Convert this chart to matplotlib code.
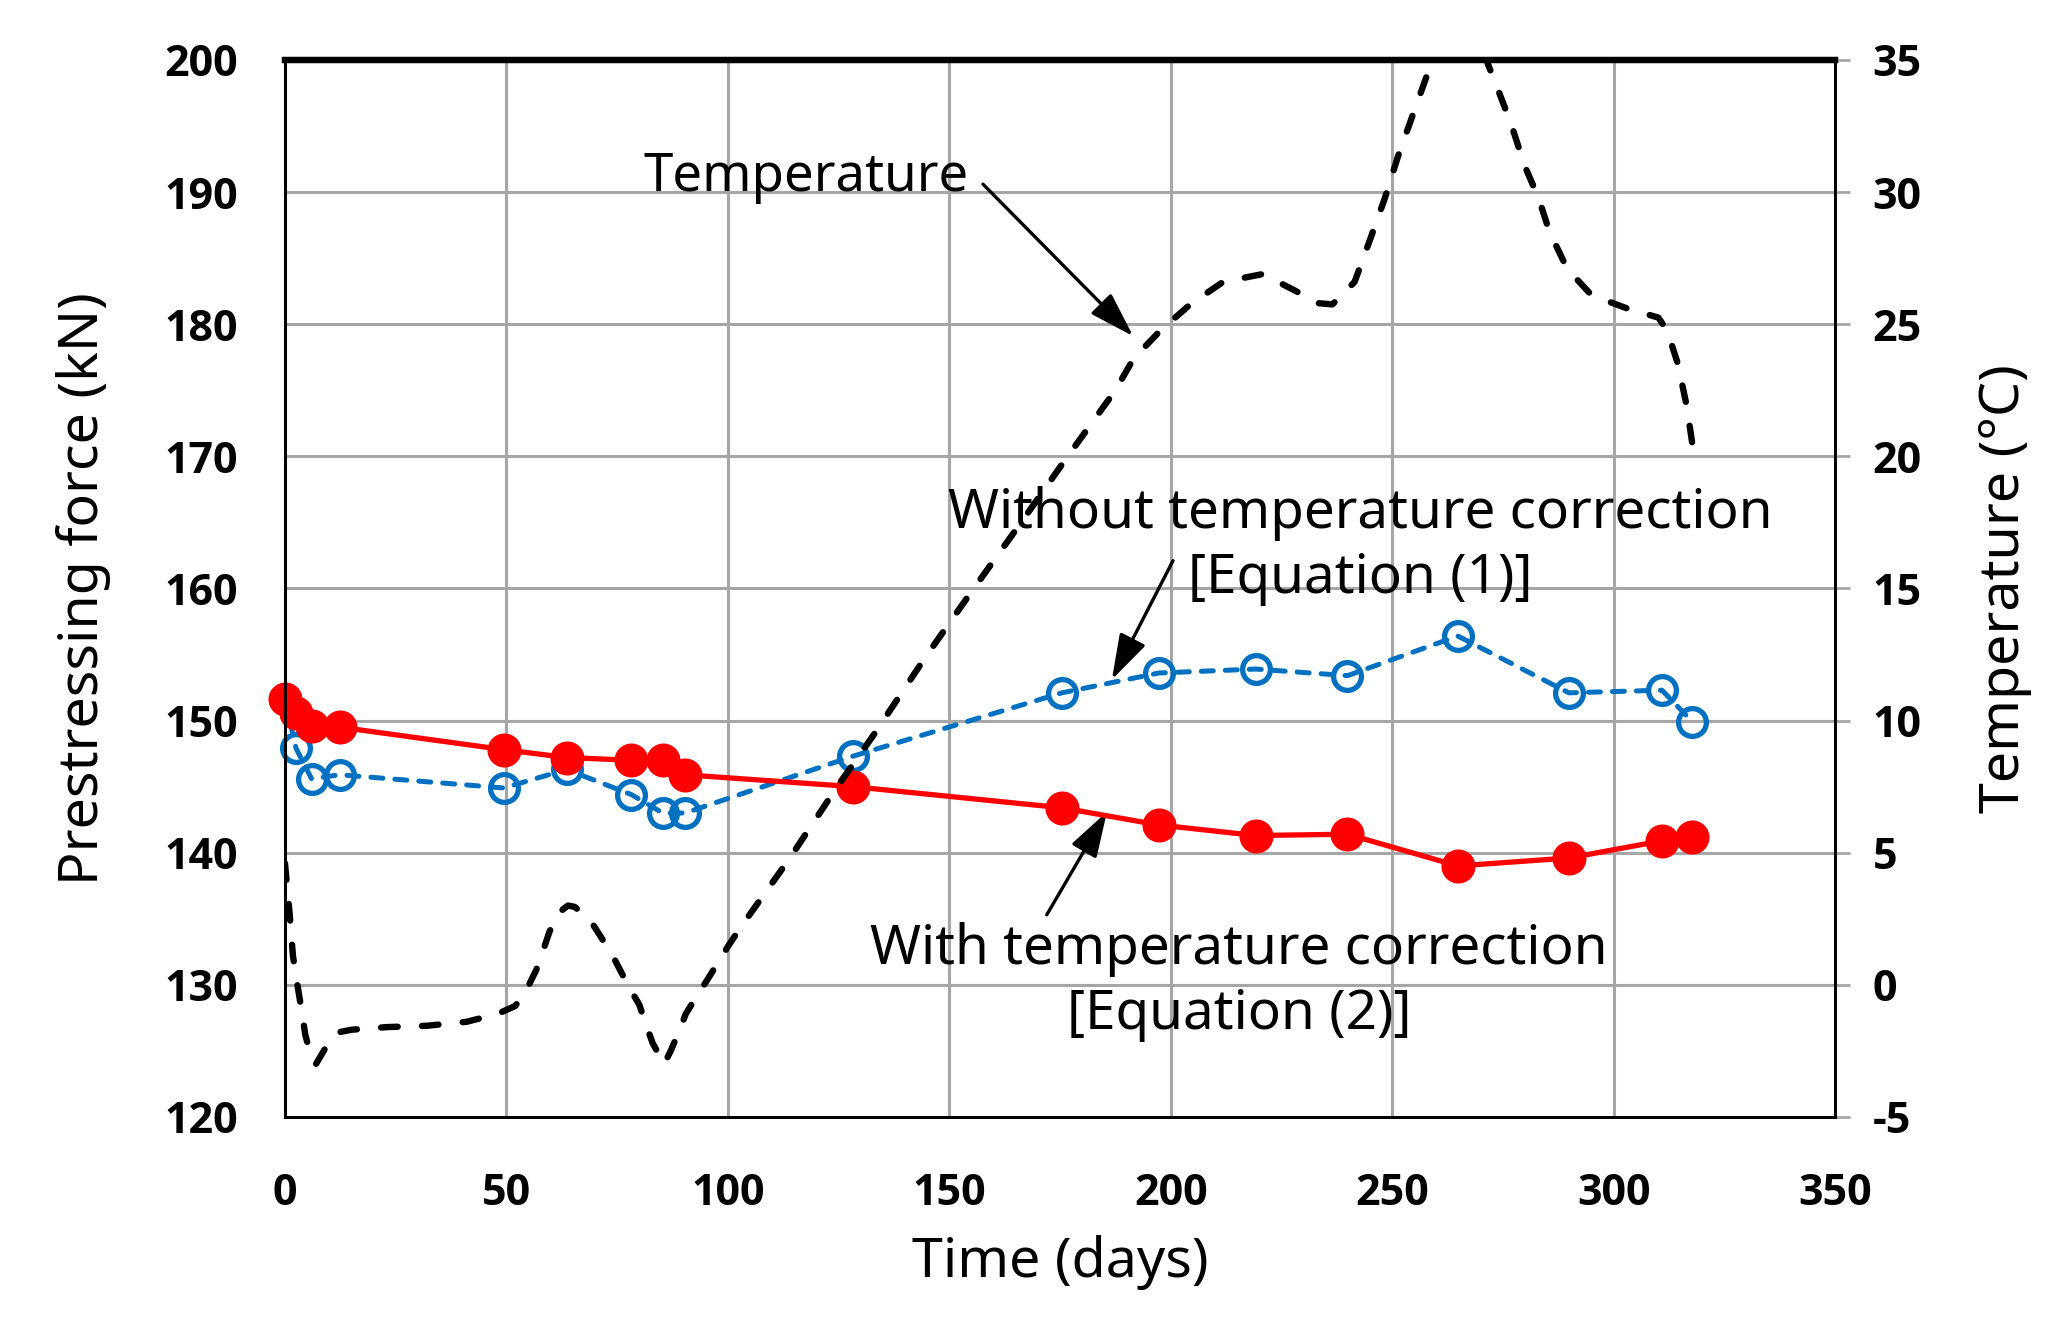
import numpy as np
import matplotlib
matplotlib.use("Agg")
import matplotlib.pyplot as plt

plt.rcParams['font.family'] = ['Noto Sans', 'DejaVu Sans']

# measurement days and prestressing force (kN)
days = [0, 2.5, 6, 12.4, 49.4, 63.6, 78.2, 85.3, 90.3, 128.2, 175.4, 197.3,
        219.2, 239.9, 264.8, 289.9, 310.9, 317.8]
forceWith = [151.6, 150.6, 149.6, 149.5, 147.8, 147.2, 147.0, 147.0, 145.9, 145.0,
             143.4, 142.1, 141.3, 141.4, 139.0, 139.6, 140.9, 141.2]
forceWithout = [151.6, 147.9, 145.6, 145.9, 144.9, 146.3, 144.4, 143.0, 143.0, 147.3,
                152.1, 153.6, 153.9, 153.4, 156.4, 152.1, 152.3, 149.9]

# temperature record
tempDays = [0, 0.5, 1.1, 1.8, 2.8, 3.6, 4.6, 5.4, 7.0, 9.1, 12, 15, 23, 32, 41, 48,
            52, 54.5, 56.7, 58.2, 59.7, 61.6, 63.9, 65.4, 68.7, 71, 74, 77.7, 80,
            81.5, 83, 85.6, 87.1, 89, 90.5, 92.7, 95.4, 98, 100.2, 103.2, 113.8,
            124.3, 133.3, 144.6, 155.1, 165.8, 176.3, 187.5, 191.6, 197.6, 204.4,
            211.8, 220.8, 228.3, 233, 236.5, 241.5, 245.1, 248.3, 251.4, 254.6,
            257.8, 261, 265, 269, 271.6, 273.6, 276.8, 279.9, 283.1, 285.5, 289.5,
            295, 303, 310.1, 312.1, 314.5, 316.5, 318]
tempValues = [4.6, 3.7, 2.6, 1.1, 0.0, -0.8, -1.9, -2.4, -3.0, -2.4, -1.8, -1.7, -1.6,
              -1.55, -1.4, -1.1, -0.8, -0.2, 0.55, 1.25, 2.0, 2.7, 3.0, 2.95, 2.5, 1.9,
              1.1, -0.1, -0.75, -1.5, -2.2, -3.0, -2.5, -1.75, -1.1, -0.5, 0.2, 0.9,
              1.5, 2.25, 4.75, 7.4, 9.55, 12.4, 14.9, 17.4, 19.9, 22.5, 23.7, 24.75,
              25.75, 26.6, 26.9, 26.25, 25.8, 25.75, 26.6, 28.25, 29.75, 31.4, 32.9,
              34.4, 36.0, 37.3, 36.3, 34.85, 34.0, 32.6, 31.0, 29.75, 28.5, 27.1,
              26.1, 25.6, 25.25, 24.75, 23.5, 21.9, 20.2]

xTicks = [0, 50, 100, 150, 200, 250, 300, 350]
yTicks = [120, 130, 140, 150, 160, 170, 180, 190, 200]
tTicks = [-5, 0, 5, 10, 15, 20, 25, 30, 35]

fig = plt.figure(figsize=(20.71, 13.27), dpi=100)
ax = fig.add_axes([0.1376, 0.1583, 0.7485, 0.7965])
ax2 = ax.twinx()

ax.plot(days, forceWithout, color='#0070C0', lw=3.6, dashes=(2.4, 2.4),
        dash_capstyle='round', marker='o', ms=20, mfc='none', mec='#0070C0',
        mew=3.8, zorder=3, clip_on=False)
ax.plot(days, forceWith, color='#FF0000', lw=3.8, marker='o', ms=23.5,
        mfc='#FF0000', mec='#FF0000', zorder=4, clip_on=False)
ax2.plot(tempDays, tempValues, color='black', lw=4.6, dashes=(2.6, 3.8),
         dash_capstyle='round')

ax.set_xlim(0, 350)
ax.set_ylim(120, 200)
ax2.set_ylim(-5, 35)
ax.set_xticks(xTicks)
ax.set_yticks(yTicks)
ax2.set_yticks(tTicks)

ax.grid(True, color='#A6A6A6', lw=2.2)
ax.set_axisbelow(True)

for a in (ax, ax2):
    for s in a.spines.values():
        s.set_linewidth(2)
        s.set_color('black')
    a.spines['top'].set_linewidth(4.5)

tickFont = dict(family='Open Sans', weight='bold', size=31)
ax.tick_params(axis='both', length=0)
ax.tick_params(axis='x', pad=40)
ax.tick_params(axis='y', pad=34)
ax2.tick_params(axis='y', length=11, width=2, color='#A6A6A6', pad=16)
ax.set_xticklabels([str(v) for v in xTicks], fontdict=tickFont)
ax.set_yticklabels([str(v) for v in yTicks], fontdict=tickFont)
ax2.set_yticklabels([str(v) for v in tTicks], fontdict=tickFont)

ax.set_xlabel('Time (days)', fontsize=40, labelpad=14)
ax.set_ylabel('Prestressing force (kN)', fontsize=40, labelpad=38)
ax2.set_ylabel('Temperature (°C)', fontsize=40, labelpad=40)

arrowProps = dict(arrowstyle='-|>,head_length=0.7,head_width=0.22', color='black',
                  lw=2.4, mutation_scale=40, shrinkA=0, shrinkB=0)
ax.text(117.6, 191.1, 'Temperature', fontsize=38, ha='center', va='center')
ax.annotate('', xy=(191.5, 179.1), xytext=(157.6, 190.6), arrowprops=arrowProps)

ax.text(242.7, 163.2, 'Without temperature correction\n[Equation (1)]',
        fontsize=39.5, ha='center', va='center', linespacing=1.25)
ax.annotate('', xy=(186.7, 153.1), xytext=(200.5, 162.1), arrowprops=arrowProps)

ax.text(215.4, 130.2, 'With temperature correction\n[Equation (2)]',
        fontsize=39.5, ha='center', va='center', linespacing=1.25)
ax.annotate('', xy=(185.6, 143.1), xytext=(172, 135.3), arrowprops=arrowProps)

plt.savefig('out.png', dpi=100)
